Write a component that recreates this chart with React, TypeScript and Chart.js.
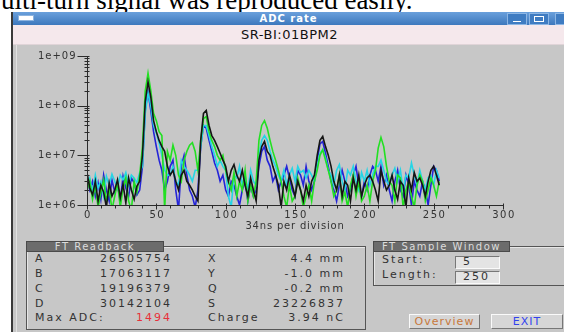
import React, { useEffect, useRef } from "react";
import { Chart, registerables } from "chart.js";

Chart.register(...registerables);

// x positions (sample index, 2 per step)
const X_STEP = 2;
// Series values in millions (1 = 1e6)
const BLACK = [
  4.5, 2.2, 1.6, 3.0, 1.2, 2.5, 1.8, 0.9, 2.8, 1.5,
  2.0, 3.2, 1.4, 2.6, 1.1, 3.5, 2.0, 1.3, 2.4, 3.0,
  10, 120, 300, 150, 50, 30, 20, 15, 12, 6,
  4, 5, 3, 2, 4, 5, 3, 2.5, 2, 1.5,
  1.2, 20, 70, 80, 40, 25, 20, 15, 11, 8,
  6, 3, 5, 6.5, 4, 3, 5, 2.5, 1.5, 3.5,
  2, 1.2, 8, 15, 19, 12, 10, 6, 4, 2.5,
  0.9, 3, 2, 4, 2.5, 1.5, 3, 2, 1.2, 2.5,
  1.5, 3, 4, 10, 20, 24, 15, 10, 6, 3,
  2, 4, 1.5, 3, 2.5, 1.2, 3.5, 2, 4, 1.5,
  2.5, 3.5, 4, 3, 2, 1.2, 5, 3, 2, 2.5,
  4, 2, 1.3, 3, 2.5, 0.9, 3.5, 2, 4.5, 3,
  3.5, 2.5, 1.5, 3, 5, 6, 4, 2.5,
];
const BLUE = [
  3.5, 2.0, 3.0, 1.5, 2.8, 1.3, 4.0, 2.0, 1.2, 3.2,
  1.8, 2.5, 1.2, 3.8, 2.2, 1.5, 3.5, 2.8, 1.6, 2.0,
  6, 80, 190, 80, 30, 15, 8, 5, 2, 3,
  6, 8, 2, 0.8, 6, 10, 4, 2, 1.5, 0.9,
  2, 15, 40, 35, 20, 12, 7, 5, 3, 4,
  2, 1.5, 3, 2.5, 1.5, 1.0, 2, 3, 1.2, 2.5,
  1.5, 2, 6, 12, 15, 8, 6, 3, 4, 2,
  3, 4, 6, 3.5, 2, 1.5, 5, 4, 2.5, 6,
  3, 2, 3, 8, 17, 19, 11, 6, 3, 2,
  1.2, 2.5, 5, 3, 1.5, 2, 4, 6, 2.5, 1.5,
  3, 2, 4, 6, 5, 3, 6, 2.5, 4, 2,
  1.2, 3, 5, 2, 1.5, 4, 2.5, 1.0, 3, 2,
  1.5, 3, 2, 1.0, 2.5, 6, 5, 3,
];
const CYAN = [
  2.5, 3.5, 1.8, 4.0, 2.2, 3.0, 1.5, 3.8, 2.5, 4.2,
  3.0, 2.2, 4.0, 3.2, 4.5, 2.5, 4.0, 3.5, 2.8, 4.5,
  6, 70, 180, 100, 40, 28, 18, 10, 5, 4,
  4, 6, 3, 2.5, 8, 6, 5, 4, 3, 5,
  5, 15, 40, 40, 25, 15, 10, 6, 8, 6,
  5, 1.5, 0.9, 4, 3.5, 6, 2.5, 4, 2, 5,
  3, 2.5, 10, 20, 25, 20, 12, 8, 6, 4,
  3, 5, 2.5, 4, 5.5, 3, 6, 4.5, 5, 3.5,
  5, 4, 3, 6, 11, 13, 9, 5, 4, 2.5,
  5, 6.5, 3, 2, 5, 4, 6, 3, 2, 4.5,
  3, 5, 2.5, 4, 6, 6, 8, 5, 3, 2.5,
  4, 5.5, 3, 5, 2, 4, 3.5, 7, 4, 2.5,
  5, 3, 2, 3.5, 4, 2.5, 5, 3.5,
];
const GREEN = [
  2.0, 3.0, 1.3, 2.5, 0.9, 1.8, 3.2, 1.2, 2.2, 0.8,
  1.5, 2.8, 0.9, 2.2, 3.5, 1.2, 0.8, 3.0, 1.8, 4.0,
  15, 200, 450, 200, 70, 50, 30, 25, 0.8, 12,
  8, 16, 10, 4, 3, 8, 12, 16, 18, 12,
  5, 20, 55, 60, 30, 20, 15, 10, 8, 10,
  5, 3, 2, 4.5, 1.5, 3, 2, 5, 1.2, 2.5,
  1.5, 3, 20, 40, 50, 35, 20, 12, 8, 5,
  3, 1.5, 0.9, 2.5, 1.2, 1.5, 3.5, 2, 0.9, 1.5,
  2.5, 1.2, 3, 5, 10, 13, 8, 5, 3, 1.5,
  2, 4, 1.2, 1.8, 0.9, 2.5, 4, 1.5, 3, 1.2,
  1.5, 2.5, 1.2, 3, 5, 14, 23, 15, 6, 3,
  2.5, 1.2, 4, 3.5, 0.9, 2, 3, 1.5, 0.9, 2.5,
  4, 3, 1.2, 2, 3.5, 2.5, 1.5, 3,
];

const X_TICKS = [0, 50, 100, 150, 200, 250, 300];
const Y_TICKS = [1e6, 1e7, 1e8, 1e9];
const X_MIN = 0;
const X_MAX = 300;
const X_TITLE = "34ns per division";

const READBACK = [
  ["A", "26505754", "X", "4.4 mm"],
  ["B", "17063117", "Y", "-1.0 mm"],
  ["C", "19196379", "Q", "-0.2 mm"],
  ["D", "30142104", "S", "23226837"],
];

const fmtExp = (v: number) => {
  const e = Math.round(Math.log10(v));
  return "1e+" + (e < 10 ? "0" + e : String(e));
};

const toPoints = (arr: number[]) => arr.map((v, i) => ({ x: i * X_STEP, y: v * 1e6 }));

const axesPlugin = {
  id: "customAxes",
  afterDraw(chart: any) {
    const { ctx, chartArea: a } = chart;
    const xs = chart.scales.x;
    const ys = chart.scales.y;
    ctx.save();
    ctx.strokeStyle = "#2b2b2b";
    ctx.fillStyle = "#333";
    ctx.lineWidth = 1;
    const ax = Math.round(a.left) + 0.5;
    const ay = Math.round(a.bottom) + 0.5;
    ctx.beginPath();
    ctx.moveTo(ax, Math.round(a.top));
    ctx.lineTo(ax, ay);
    ctx.lineTo(Math.round(a.right) + 0.5, ay);
    ctx.stroke();
    ctx.beginPath();
    for (let d = 6; d < 9; d++) {
      for (let m = 2; m <= 9; m++) {
        const py = Math.round(ys.getPixelForValue(m * Math.pow(10, d))) + 0.5;
        ctx.moveTo(ax - 3, py);
        ctx.lineTo(ax + 2, py);
      }
    }
    Y_TICKS.forEach((v) => {
      const py = Math.round(ys.getPixelForValue(v)) + 0.5;
      ctx.moveTo(ax - 10, py);
      ctx.lineTo(ax + 2, py);
    });
    for (let v = X_MIN; v <= X_MAX; v += 10) {
      const px = Math.round(xs.getPixelForValue(v)) + 0.5;
      const major = v % 50 === 0;
      ctx.moveTo(px, ay - (major ? 2 : 0));
      ctx.lineTo(px, ay + (major ? 4 : 3));
    }
    ctx.stroke();
    ctx.font = '10px "DejaVu Sans"';
    (ctx as any).letterSpacing = "1px";
    ctx.textAlign = "right";
    ctx.textBaseline = "middle";
    Y_TICKS.forEach((v) => {
      const py = ys.getPixelForValue(v);
      ctx.fillText(fmtExp(v), ax - 11, py);
    });
    (ctx as any).letterSpacing = "1.5px";
    ctx.textAlign = "center";
    X_TICKS.forEach((v) => {
      const px = xs.getPixelForValue(v);
      ctx.fillText(String(v), px + 1, ay + 10);
    });
    (ctx as any).letterSpacing = "0.8px";
    ctx.fillText(X_TITLE, (a.left + a.right) / 2, ay + 21);
    ctx.restore();
  },
};

const SANS = '"DejaVu Sans", sans-serif';

const tabStyle = (left: number, width: number): React.CSSProperties => ({
  position: "absolute",
  left,
  top: 241,
  width,
  height: 9,
  background: "#6c6c6c",
  border: "1px solid #4a4a4a",
  color: "#dcdcdc",
  font: `10px ${SANS}`,
  letterSpacing: "1.5px",
  lineHeight: "9px",
  textAlign: "center",
  boxSizing: "content-box",
  overflow: "hidden",
});

const txt = (
  s: string,
  left: number,
  top: number,
  extra: React.CSSProperties = {}
): React.CSSProperties => ({
  position: "absolute",
  left,
  top,
  font: `11px ${SANS}`,
  letterSpacing: "2px",
  color: "#333",
  whiteSpace: "nowrap",
  lineHeight: "12px",
  ...extra,
});

export default function App() {
  const ref = useRef<HTMLCanvasElement>(null);
  useEffect(() => {
    if (!ref.current) return;
    const chart = new Chart(ref.current, {
      type: "line",
      data: {
        datasets: [
          { label: "black", data: toPoints(BLACK), borderColor: "#151515" },
          { label: "green", data: toPoints(GREEN), borderColor: "#22e022" },
          { label: "cyan", data: toPoints(CYAN), borderColor: "#25d5e5" },
          { label: "blue", data: toPoints(BLUE), borderColor: "#2424d8" },
        ],
      },
      options: {
        responsive: false,
        animation: false,
        devicePixelRatio: 1,
        layout: { padding: { left: 87, right: 61, top: 56, bottom: 127 } },
        elements: { point: { radius: 0 }, line: { borderWidth: 1.6, tension: 0 } },
        plugins: { legend: { display: false }, tooltip: { enabled: false }, title: { display: false } },
        scales: {
          x: { type: "linear", min: X_MIN, max: X_MAX, display: false },
          y: { type: "logarithmic", min: 1e6, max: 1e9, display: false },
        },
      },
      plugins: [axesPlugin],
    });
    return () => chart.destroy();
  }, []);

  return (
    <div style={{ position: "fixed", left: 0, top: 0, width: 564, height: 332, overflow: "hidden", background: "#fff" }}>
      <div
        style={{
          position: "absolute",
          left: 1,
          top: -13,
          font: '27px "Liberation Serif", serif',
          lineHeight: "26px",
          color: "#000",
          whiteSpace: "nowrap",
        }}
      >
        ulti-turn signal was reproduced easily.
      </div>
      <div style={{ position: "absolute", left: 11, top: 12, width: 600, height: 330, background: "#c7c7c7", borderLeft: "2px solid #3a3a3a" }}>
        <div style={{ position: "absolute", left: 0, top: 0, right: 0, height: 13, background: "linear-gradient(#6aa0dc, #3d78bd)" }}>
          <div style={{ position: "absolute", left: 5, top: 3, width: 14, height: 4, background: "#fff", border: "1px solid #8cb3df" }} />
          <div style={{ position: "absolute", left: 0, width: 551, top: 0, textAlign: "center", color: "#fff", font: `bold 10px ${SANS}`, letterSpacing: "1px", lineHeight: "13px" }}>
            ADC rate
          </div>
          {[494, 516, 542].map((l, i) => (
            <div key={i} style={{ position: "absolute", left: l, top: 1, width: 18, height: 10, background: "#3f7cc2", border: "1px solid #8db6e4" }}>
              {i === 0 && <div style={{ position: "absolute", left: 5, top: 7, width: 8, height: 1, background: "#fff" }} />}
              {i === 1 && <div style={{ position: "absolute", left: 4, top: 2, width: 8, height: 4, border: "1px solid #fff" }} />}
            </div>
          ))}
        </div>
        <div style={{ position: "absolute", left: 0, top: 13, right: 0, height: 19, background: "#f5e8ec", borderBottom: "1px solid #e0d4d8" }}>
          <div style={{ position: "absolute", left: 0, width: 553, top: 0, textAlign: "center", color: "#111", font: `13px ${SANS}`, letterSpacing: "0.5px", lineHeight: "19px" }}>
            SR-BI:01BPM2
          </div>
        </div>
        <div style={{ position: "absolute", left: 3, top: 33, width: 1, height: 300, background: "#e2e2e2" }} />
      </div>

      <div style={{ position: "absolute", left: 26, top: 246, width: 338, height: 82, border: "1px solid #555", boxShadow: "inset 1px 1px 0 #e6e6e6" }} />
      <div style={tabStyle(26, 136)}>FT Readback</div>
      {READBACK.map((r, i) => (
        <React.Fragment key={r[0]}>
          <div style={txt(r[0], 35, 253 + i * 15)}>{r[0]}</div>
          <div style={txt(r[1], 0, 253 + i * 15, { width: 172, textAlign: "right" })}>{r[1]}</div>
          <div style={txt(r[2], 208, 253 + i * 15)}>{r[2]}</div>
          <div style={txt(r[3], 0, 253 + i * 15, { width: 345, textAlign: "right" })}>{r[3]}</div>
        </React.Fragment>
      ))}
      <div style={txt("Max ADC:", 35, 312)}>Max ADC:</div>
      <div style={txt("1494", 0, 312, { width: 172, textAlign: "right", color: "#e8303a" })}>1494</div>
      <div style={txt("Charge", 208, 312)}>Charge</div>
      <div style={txt("3.94 nC", 0, 312, { width: 345, textAlign: "right" })}>3.94 nC</div>

      <div style={{ position: "absolute", left: 373, top: 246, width: 200, height: 38, border: "1px solid #555", boxShadow: "inset 1px 1px 0 #e6e6e6" }} />
      <div style={tabStyle(373, 135)}>FT Sample Window</div>
      <div style={txt("Start:", 382, 254)}>Start:</div>
      <div style={txt("Length:", 382, 269)}>Length:</div>
      {["5", "250"].map((v, i) => (
        <div key={v} style={{ position: "absolute", left: 455, top: 256 + i * 15, width: 43, height: 11, background: "#e4e4e4", borderTop: "1px solid #777", borderLeft: "1px solid #777", borderBottom: "1px solid #fafafa", borderRight: "1px solid #fafafa" }}>
          <div style={txt(v, 7, -1)}>{v}</div>
        </div>
      ))}

      <div style={{ position: "absolute", left: 409, top: 314, width: 69, height: 13, background: "#d6d6d6", borderTop: "1px solid #fafafa", borderLeft: "1px solid #fafafa", borderBottom: "1px solid #777", borderRight: "1px solid #777" }}>
        <div style={txt("Overview", 0, 1, { width: 69, textAlign: "center", color: "#c8783c", letterSpacing: "1px" })}>Overview</div>
      </div>
      <div style={{ position: "absolute", left: 491, top: 314, width: 70, height: 13, background: "#d6d6d6", borderTop: "1px solid #fafafa", borderLeft: "1px solid #fafafa", borderBottom: "1px solid #777", borderRight: "1px solid #777" }}>
        <div style={txt("EXIT", 0, 1, { width: 70, textAlign: "center", color: "#3242ee", letterSpacing: "1px" })}>EXIT</div>
      </div>

      <canvas ref={ref} width={564} height={332} style={{ position: "absolute", left: 0, top: 0, width: 564, height: 332 }} />
    </div>
  );
}
